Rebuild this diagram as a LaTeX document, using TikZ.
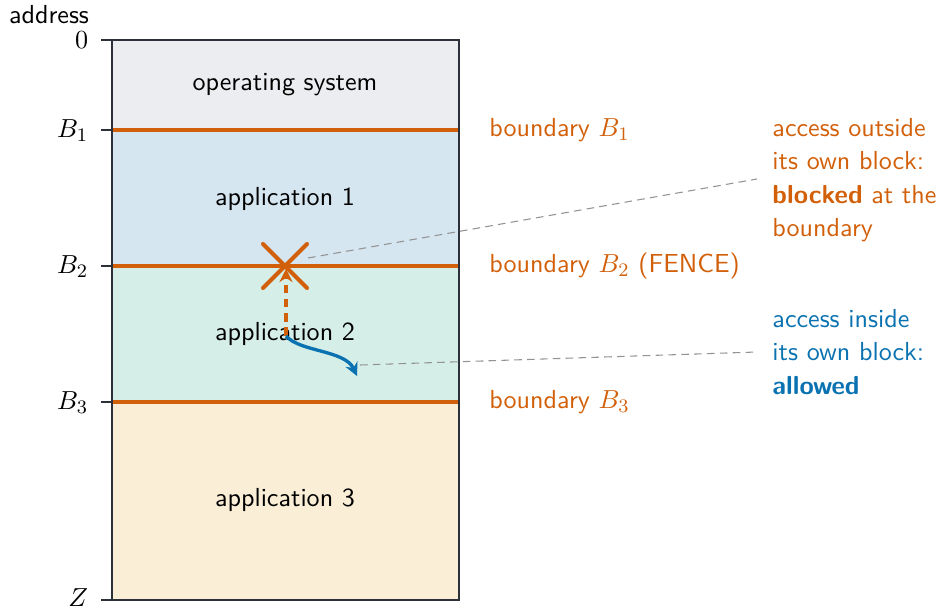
\documentclass[tikz,border=0pt,11pt]{standalone}
\usetikzlibrary{arrows.meta}
\definecolor{vorange}{HTML}{D2600A}
\definecolor{vblue}{HTML}{0A72B0}
\definecolor{osfill}{HTML}{ECEDF0}
\definecolor{aonefill}{HTML}{D5E6F1}
\definecolor{atwofill}{HTML}{D5EEE7}
\definecolor{athreefill}{HTML}{FAEED6}
\definecolor{frame}{HTML}{2B303B}
\begin{document}
\begin{tikzpicture}[x=0.42pt,y=-0.42pt,font=\sffamily,
  region/.style={draw=none},
  bline/.style={vorange,line width=1.3pt},
  tick/.style={frame,line width=0.8pt},
  lefttick/.style={anchor=east,inner sep=1pt},
  blabel/.style={anchor=west,text=vorange,inner sep=0pt},
  rlabel/.style={anchor=north west,align=left,inner sep=0pt},
  leader/.style={gray!85,line width=0.45pt,dash pattern=on 3.2pt off 2.2pt}]
\useasboundingbox (0,0) rectangle (942,610);
% regions
\fill[osfill] (112,40) rectangle (459,130);
\fill[aonefill] (112,130) rectangle (459,266);
\fill[atwofill] (112,266) rectangle (459,402);
\fill[athreefill] (112,402) rectangle (459,600);
% boundary coordinates
\coordinate (b1l) at (112,130); \coordinate (b1r) at (459,130);
\coordinate (b2l) at (112,266); \coordinate (b2r) at (459,266);
\coordinate (b3l) at (112,402); \coordinate (b3r) at (459,402);
\draw[bline] (b1l) -- (b1r);
\draw[bline] (b2l) -- (b2r);
\draw[bline] (b3l) -- (b3r);
% frame
\draw[frame,line width=0.85pt] (112,40) rectangle (459,600);
% ticks
\coordinate (t0) at (101,40); \coordinate (t0r) at (112,40);
\coordinate (t1) at (101,130); \coordinate (t2) at (101,266);
\coordinate (t3) at (101,402); \coordinate (tz) at (101,600); \coordinate (tzr) at (112,600);
\draw[tick] (t0) -- (t0r);
\draw[tick] (t1) -- (b1l);
\draw[tick] (t2) -- (b2l);
\draw[tick] (t3) -- (b3l);
\draw[tick] (tz) -- (tzr);
\node[lefttick] (l0) at (91,40) {$0$};
\node[lefttick] (l1) at (91,131) {$B_1$};
\node[lefttick] (l2) at (91,267) {$B_2$};
\node[lefttick] (l3) at (91,403) {$B_3$};
\node[lefttick] (lz) at (91,598) {$Z$};
\node (addr) at (49,15) {address};
% region labels
\node (os) at (285,85) {operating system};
\node (a1) at (285,199) {application 1};
\node (a2) at (285,334) {application 2};
\node (a3) at (285,500) {application 3};
% boundary labels
\node[blabel] (bl1) at (489,130) {boundary $B_1$};
\node[blabel] (bl2) at (489,266) {boundary $B_2$ (FENCE)};
\node[blabel] (bl3) at (489,402) {boundary $B_3$};
% cross
\coordinate (x) at (285,266);
\draw[vorange,line width=1.7pt,line cap=round] (263,244) -- (307,288) (307,244) -- (263,288);
% access arrows
\coordinate (start) at (286,336);
\coordinate (xtip) at (286,269);
\coordinate (inend) at (357,376);
\draw[vorange,line width=1.3pt,dash pattern=on 3.6pt off 2.4pt,-{Stealth[length=5.5pt,width=5.5pt]}] (start) -- (xtip);
\draw[vblue,line width=1.4pt,-{Stealth[length=5.5pt,width=5.5pt]}] (start) .. controls (300,352) and (345,350) .. (inend);
% leaders
\coordinate (lo1) at (308,258); \coordinate (lo2) at (757,179);
\coordinate (li1) at (360,365); \coordinate (li2) at (757,352);
\draw[leader] (lo1) -- (lo2);
\draw[leader] (li1) -- (li2);
% right notes
\node[rlabel,text=vorange] (out) at (772,118) {access outside\\[0.4pt] its own block:\\[0.4pt] \textbf{blocked} at the\\[0.4pt] boundary};
\node[rlabel,text=vblue] (in) at (772,309) {access inside\\[0.4pt] its own block:\\[0.4pt] \textbf{allowed}};
\end{tikzpicture}
\end{document}
